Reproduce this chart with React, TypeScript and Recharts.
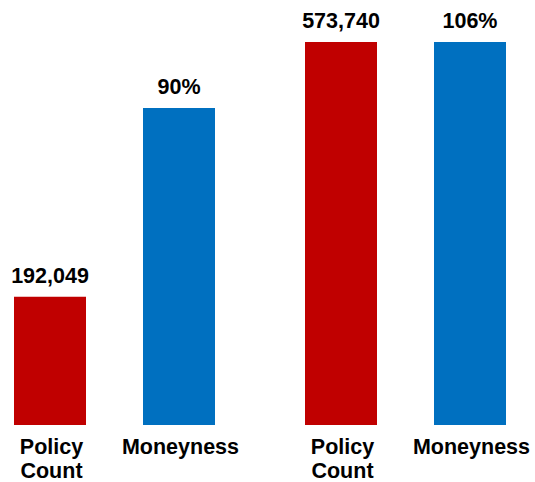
import React from 'react';
import { BarChart, Bar, XAxis, YAxis, LabelList } from 'recharts';

const groups = ['Group 1', 'Group 2'];
const policyCount = [192049, 573740];
const moneyness = [90, 106];
const seriesNames = ['Policy Count', 'Moneyness'];

const chartData = groups.map((group, i) => ({
  group,
  count: policyCount[i],
  money: moneyness[i],
}));

const FONT = 'Liberation Sans, Arial, sans-serif';
const FONT_SIZE = 21.5;

// series name written under each bar, split on spaces into lines
const NameLabel = ({ x, y, width, height, name }: any) => {
  const lines = String(name).split(' ');
  const cx = Number(x) + Number(width) / 2 + 1.5;
  const base = Number(y) + Number(height) + 28.5;
  return (
    <text x={cx} y={base} textAnchor="middle" fontFamily={FONT} fontWeight="bold" fontSize={FONT_SIZE} fill="#000">
      {lines.map((line, i) => (
        <tspan key={i} x={cx} y={base + i * 24}>{line}</tspan>
      ))}
    </text>
  );
};

const App: React.FC = () => {
  return (
    <div style={{ position: 'absolute', left: 0, top: 0, width: 535, height: 482, overflow: 'hidden', background: '#fff' }}>
      <BarChart
        width={582}
        height={482}
        data={chartData}
        margin={{ top: 42, right: 0, bottom: 57, left: 0 }}
        barGap={57}
        style={{ position: 'absolute', left: -31, top: 0 }}
      >
        <XAxis dataKey="group" hide={true} />
        <YAxis yAxisId="count" hide={true} domain={[0, 573740]} />
        <YAxis yAxisId="money" hide={true} orientation="right" domain={[13, 106]} allowDataOverflow={true} />
        <Bar yAxisId="count" dataKey="count" fill="#C00000" barSize={72} isAnimationActive={false}>
          <LabelList
            dataKey="count"
            position="top"
            offset={14}
            formatter={(v: any) => Number(v).toLocaleString('en-US')}
            style={{ fontFamily: FONT, fontWeight: 'bold', fontSize: FONT_SIZE, fill: '#000' }}
          />
          <LabelList dataKey="count" content={(p: any) => <NameLabel {...p} name={seriesNames[0]} />} />
        </Bar>
        <Bar yAxisId="money" dataKey="money" fill="#0070C0" barSize={72} isAnimationActive={false}>
          <LabelList
            dataKey="money"
            position="top"
            offset={14}
            formatter={(v: any) => `${v}%`}
            style={{ fontFamily: FONT, fontWeight: 'bold', fontSize: FONT_SIZE, fill: '#000' }}
          />
          <LabelList dataKey="money" content={(p: any) => <NameLabel {...p} name={seriesNames[1]} />} />
        </Bar>
      </BarChart>
    </div>
  );
};

export default App;
